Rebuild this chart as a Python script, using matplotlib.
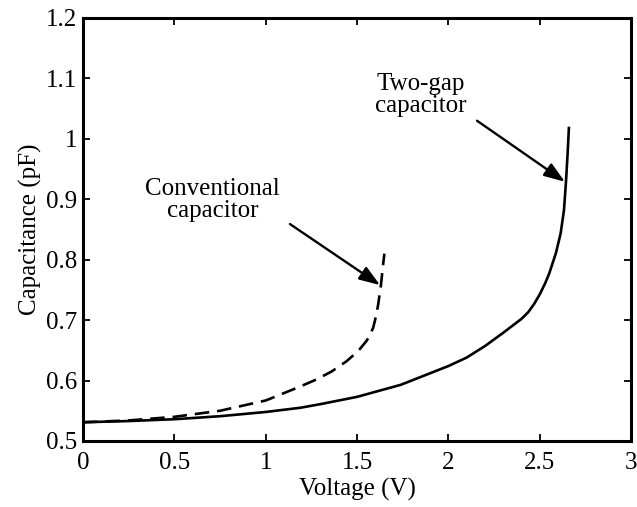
"""
Capacitance vs. voltage for a conventional and a two-gap capacitor.
"""

import matplotlib
matplotlib.use("Agg")
import matplotlib.pyplot as plt

# Two-gap capacitor (solid)
twogap_v = [0.0, 0.25, 0.5, 0.75, 1.0, 1.19, 1.3, 1.5, 1.74, 2.0, 2.1, 2.2,
            2.3, 2.4, 2.437, 2.47, 2.501, 2.53, 2.552, 2.589, 2.615, 2.633,
            2.644, 2.653, 2.66]
twogap_c = [0.531, 0.533, 0.536, 0.541, 0.548, 0.555, 0.561, 0.573, 0.593,
            0.624, 0.638, 0.657, 0.679, 0.702, 0.713, 0.727, 0.743, 0.761,
            0.777, 0.811, 0.844, 0.882, 0.929, 0.976, 1.018]

# Conventional capacitor (dashed)
conv_v = [0.0, 0.25, 0.5, 0.75, 1.0, 1.188, 1.279, 1.361, 1.443, 1.507,
          1.553, 1.575, 1.589, 1.605, 1.616, 1.631, 1.644, 1.650]
conv_c = [0.531, 0.534, 0.540, 0.550, 0.567, 0.590, 0.602, 0.615, 0.632,
          0.649, 0.666, 0.678, 0.688, 0.708, 0.726, 0.758, 0.795, 0.810]

x_ticks = [0, 0.5, 1, 1.5, 2, 2.5, 3]
x_tick_labels = ["0", "0.5", "1", "1.5", "2", "2.5", "3"]
y_ticks = [0.5, 0.6, 0.7, 0.8, 0.9, 1.0, 1.1, 1.2]
y_tick_labels = ["0.5", "0.6", "0.7", "0.8", "0.9", "1", "1.1", "1.2"]

plt.rcParams["font.family"] = ["Liberation Serif", "DejaVu Serif"]
plt.rcParams["font.size"] = 18

fig = plt.figure(figsize=(6.37, 5.07), dpi=100)
ax = fig.add_axes([0.1303, 0.1302, 0.8603, 0.8343])

ax.plot(twogap_v, twogap_c, color="black", linewidth=1.9,
        solid_joinstyle="round")
ax.plot(conv_v, conv_c, color="black", linewidth=1.9, linestyle=(0, (5.5, 3)))

ax.set_xlim(0, 3)
ax.set_ylim(0.5, 1.2)
ax.set_xticks(x_ticks)
ax.set_xticklabels(x_tick_labels)
ax.set_yticks(y_ticks)
ax.set_yticklabels(y_tick_labels)
ax.tick_params(direction="in", top=True, right=True, length=5, width=1.3,
               labelsize=18)
ax.tick_params(axis="x", pad=8)
ax.tick_params(axis="y", pad=4)
for side in ax.spines.values():
    side.set_linewidth(2.2)

ax.set_xlabel("Voltage (V)", fontsize=18, labelpad=3)
ax.set_ylabel("Capacitance (pF)", fontsize=18, labelpad=3)

# annotations
arrow = dict(arrowstyle="-|>,head_length=0.7,head_width=0.25",
             color="black", linewidth=1.7, shrinkA=0, shrinkB=0)
ax.annotate("", xy=(1.626, 0.758), xytext=(1.133, 0.859), arrowprops=arrow)
ax.annotate("", xy=(2.638, 0.929), xytext=(2.157, 1.030), arrowprops=arrow)
ax.text(0.71, 0.899, "Conventional\ncapacitor", ha="center", va="center",
        fontsize=18, linespacing=1.0)
ax.text(1.85, 1.0726, "Two-gap\ncapacitor", ha="center", va="center",
        fontsize=18, linespacing=1.0)

plt.savefig("out.png", dpi=100)
plt.close()
